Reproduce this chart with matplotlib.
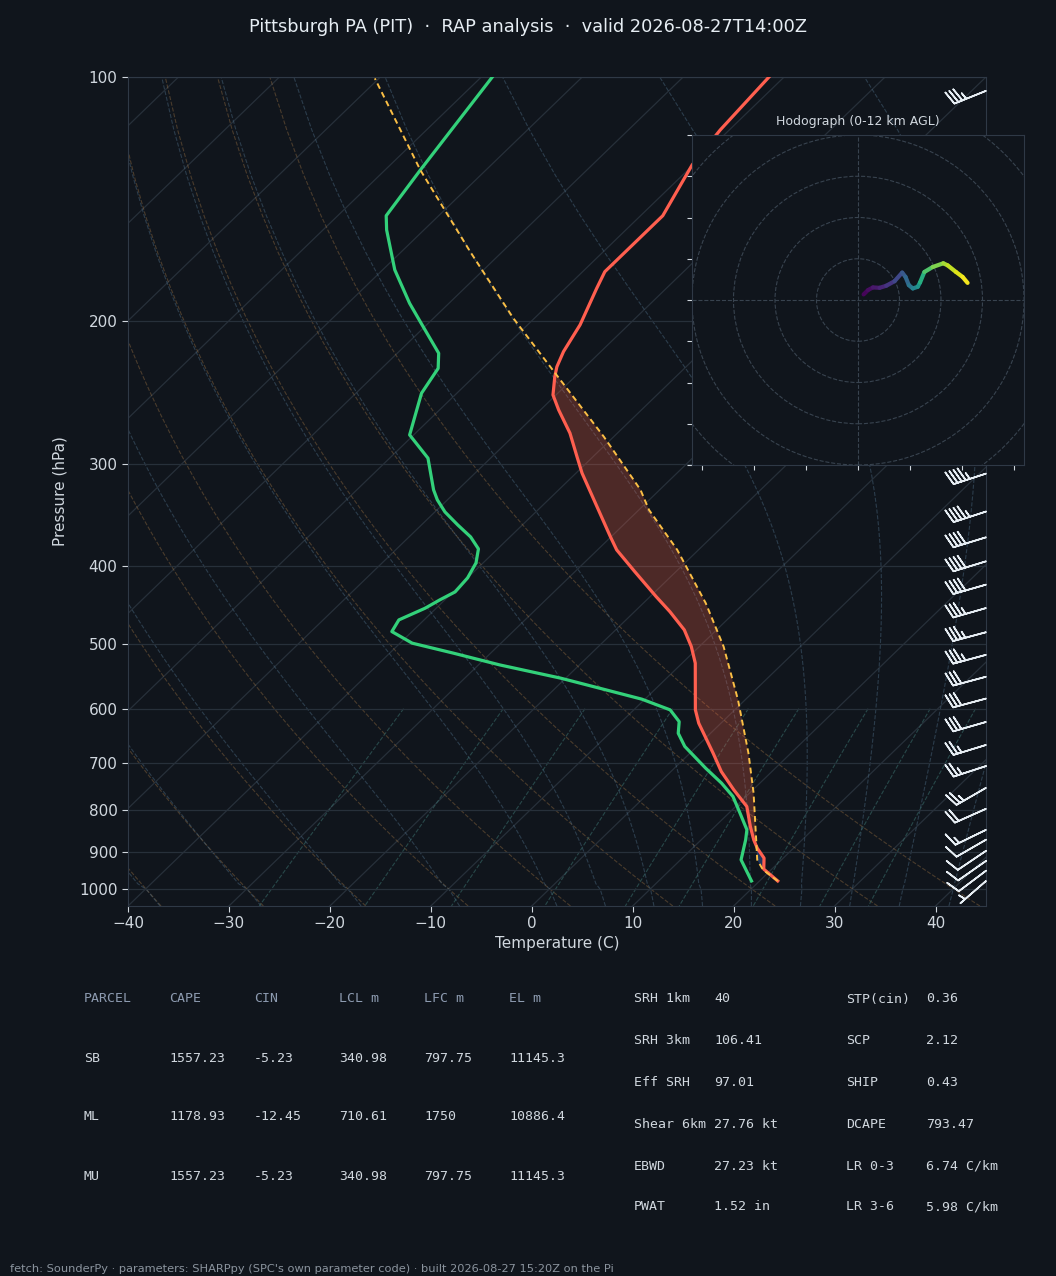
import numpy as np
import matplotlib
matplotlib.use("Agg")
import matplotlib.pyplot as plt
from matplotlib.collections import LineCollection
from matplotlib.patches import Circle
from matplotlib import transforms
from matplotlib.ticker import ScalarFormatter, NullLocator

# ---- sounding ----
p_temp = np.array([978, 945.7, 916.6, 891.0, 870.2, 838.0, 791.8, 755.2, 717.2, 680.7,
                   625.2, 602.0, 527.3, 503.0, 479.8, 455.6, 436.6, 406.6, 382.4, 368.2,
                   307.6, 293.5, 274.6, 257.1, 246.4, 233.9, 227.5, 217.9, 202.0, 182.1,
                   173.7, 153.6, 148.2, 128.3, 116.2, 100.0])
t_temp = np.array([21.8, 19.2, 18.1, 16.4, 15.2, 13.5, 11.1, 8.1, 5.0, 2.3,
                   -2.2, -3.9, -8.7, -10.8, -13.2, -16.5, -19.4, -24.1, -28.1, -30.1,
                   -39.4, -41.6, -44.7, -48.2, -50.3, -52.0, -52.8, -53.7, -54.8, -56.9,
                   -57.8, -57.8, -57.8, -60.1, -60.9, -61.5])

p_dew = np.array([978, 921.1, 870.2, 845.9, 806.7, 769.6, 741.0, 710.3, 667.8, 643.3,
                  622.4, 602.0, 584.0, 568.8, 550.2, 529.9, 512.5, 498.2, 482.1, 466.4,
                  451.2, 440.7, 430.8, 414.0, 396.8, 381.3, 368.6, 356.3, 343.4, 331.8,
                  322.5, 294.8, 276.0, 245.2, 228.5, 218.9, 201.1, 190.0, 172.8, 154.3,
                  148.2, 130.2, 100.1])
t_dew = np.array([19.2, 16.0, 14.4, 13.5, 11.1, 8.7, 6.2, 3.1, -1.2, -3.2,
                  -4.3, -6.4, -10.3, -14.8, -20.5, -27.9, -33.7, -38.8, -42.0, -42.5,
                  -41.1, -40.5, -39.8, -40.0, -40.7, -41.9, -43.9, -46.4, -49.0, -51.0,
                  -52.4, -56.2, -60.4, -63.5, -64.4, -65.9, -70.7, -73.9, -78.8, -83.7,
                  -85.2, -86.5, -88.9])

p_parcel = np.array([978, 947.6, 921.1, 878.4, 762.3, 680.7, 585.2, 503.0, 444.9, 382.4,
                     341.4, 322.5, 277.3, 231.7, 198.2, 164.1, 130.2, 100.4])
t_parcel = np.array([21.8, 19.2, 17.6, 15.8, 10.4, 5.8, -0.7, -7.6, -13.8, -22.1,
                     -29.0, -31.9, -41.0, -52.3, -62.1, -73.2, -86.5, -100.4])

# wind barbs (hPa, kt, deg from)
p_barb = np.array([104, 140, 175, 215, 260, 308, 343, 369, 395, 422, 451, 483, 515,
                   548, 583, 623, 665, 706, 751, 797, 846, 870, 898, 924, 950, 978])
spd_barb = np.array([35, 50, 50, 50, 48, 45, 45, 40, 40, 40, 35, 35, 35,
                     30, 30, 30, 25, 25, 25, 20, 15, 10, 10, 10, 10, 5])
dir_barb = np.array([248, 255, 258, 258, 255, 252, 252, 253, 253, 254, 254, 255, 255,
                     255, 255, 254, 253, 252, 240, 246, 244, 240, 236, 235, 233, 229])

# hodograph (kt) and height (km AGL)
hodo_u = [2.7, 4.8, 7.2, 10.4, 13.6, 17.6, 21.3, 22.9, 24.5, 26.4, 28.8, 29.9, 32.0,
          36.0, 41.1, 43.2, 47.2, 50.4, 52.8]
hodo_v = [2.7, 4.8, 6.1, 5.9, 6.9, 9.1, 13.3, 11.2, 7.2, 5.6, 6.4, 8.5, 13.6,
          16.0, 17.8, 16.8, 13.6, 11.2, 8.3]
hodo_z = [0, 0.3, 0.6, 1.0, 1.5, 2.2, 3.0, 3.6, 4.3, 5.0, 5.8, 6.8, 8.2,
          9.2, 10.2, 10.6, 11.2, 11.6, 12.0]

parcel_cols = ["PARCEL", "CAPE", "CIN", "LCL m", "LFC m", "EL m"]
parcel_rows = [["SB", "1557.23", "-5.23", "340.98", "797.75", "11145.3"],
               ["ML", "1178.93", "-12.45", "710.61", "1750", "10886.4"],
               ["MU", "1557.23", "-5.23", "340.98", "797.75", "11145.3"]]
params_a = [("SRH 1km", "40"), ("SRH 3km", "106.41"), ("Eff SRH", "97.01"),
            ("Shear 6km", "27.76 kt"), ("EBWD", "27.23 kt"), ("PWAT", "1.52 in")]
params_b = [("STP(cin)", "0.36"), ("SCP", "2.12"), ("SHIP", "0.43"),
            ("DCAPE", "793.47"), ("LR 0-3", "6.74 C/km"), ("LR 3-6", "5.98 C/km")]

TITLE = "Pittsburgh PA (PIT)  \u00b7  RAP analysis  \u00b7  valid 2026-08-27T14:00Z"
FOOTER = ("fetch: SounderPy \u00b7 parameters: SHARPpy (SPC's own parameter code) "
          "\u00b7 built 2026-08-27 15:20Z on the Pi")

# ---- style ----
BG = "#10151c"
TXT = "#d0d7de"
SPINE = "#2f3946"
GRID = "#27303a"
W, H = 1056, 1276

P_BOT, P_TOP = 1050.0, 100.0
T_MIN, T_MAX = -40.0, 45.0
SKEW = T_MAX - T_MIN   # 45 deg skew in axes coords


def sx(t, p):
    frac = np.log(P_BOT / np.asarray(p, float)) / np.log(P_BOT / P_TOP)
    return np.asarray(t, float) + SKEW * frac


def moist_lines(t0c, plev):
    Rd, Cp, Lv, eps = 287.04, 1005.7, 2.501e6, 0.622

    def f(T, p):
        es = 6.112 * np.exp(17.67 * (T - 273.15) / (T - 29.65))
        r = eps * es / (p - es)
        return (Rd * T + Lv * r) / p / (Cp + Lv * Lv * r * eps / (Rd * T * T))

    out = {}
    for target in (plev[plev <= 1000][::-1], plev[plev >= 1000]):
        T = np.asarray(t0c, float) + 273.15
        p = 1000.0
        res = []
        for pn in target:
            n = 6
            h = (pn - p) / n
            for _ in range(n):
                k1 = f(T, p); k2 = f(T + h * k1 / 2, p + h / 2)
                k3 = f(T + h * k2 / 2, p + h / 2); k4 = f(T + h * k3, p + h)
                T = T + h * (k1 + 2 * k2 + 2 * k3 + k4) / 6
                p += h
            res.append(T.copy())
            p = pn
        for pn, tv in zip(target, res):
            out[pn] = tv - 273.15
    ps = np.sort(np.array(list(out.keys())))[::-1]
    return ps, np.array([out[k] for k in ps]).T


plt.rcParams["font.family"] = "DejaVu Sans"
fig = plt.figure(figsize=(W / 100, H / 100), dpi=100, facecolor=BG)
ax = fig.add_axes([128 / W, 1 - 906 / H, 858 / W, 829 / H], facecolor=BG)
ax.set_yscale("log")
ax.set_ylim(P_BOT, P_TOP)
ax.set_xlim(T_MIN, T_MAX)
ax.yaxis.set_major_locator(matplotlib.ticker.FixedLocator(np.arange(100, 1001, 100)))
ax.yaxis.set_major_formatter(ScalarFormatter())
ax.yaxis.set_minor_locator(NullLocator())
ax.set_xticks(np.arange(-40, 41, 10))
for s in ax.spines.values():
    s.set_color(SPINE)
ax.tick_params(colors=TXT, labelsize=11, length=4, color=TXT)
ax.grid(axis="y", color=GRID, lw=0.9)
ax.set_xlabel("Temperature (C)", color=TXT, fontsize=11, labelpad=3)
ax.set_ylabel("Pressure (hPa)", color=TXT, fontsize=11, labelpad=8)

# isotherms
for t in np.arange(-130, 50, 10):
    ax.plot(sx([t, t], [P_BOT, P_TOP]), [P_BOT, P_TOP], color=GRID, lw=0.9, zorder=1)

# dry adiabats
plin = np.linspace(P_BOT, P_TOP, 60)
for t0 in np.arange(-40, 46, 10):
    td = (t0 + 273.15) * (plin / 1000.0) ** 0.2857 - 273.15
    ax.plot(sx(td, plin), plin, color="#b5834a", alpha=0.35, lw=0.8, ls="--", zorder=1)

# moist adiabats
t0m = np.concatenate((np.arange(-40, 0, 10), np.arange(0, 46, 5)))
pm, tm = moist_lines(t0m, plin)
for row in tm:
    ax.plot(sx(row, pm), pm, color="#4d6d86", alpha=0.45, lw=0.8, ls="--", zorder=1)

# mixing ratio lines
pmix = np.linspace(600, P_BOT, 30)
for w in [0.0004, 0.001, 0.002, 0.004, 0.007, 0.01, 0.016, 0.024, 0.032]:
    e = pmix * w / (0.622 + w)
    le = np.log(e / 6.112)
    tdw = 243.5 * le / (17.67 - le)
    ax.plot(sx(tdw, pmix), pmix, color="#3f7a76", alpha=0.5, lw=0.8, ls="--", zorder=1)

# CAPE / CIN shading
pg = np.unique(np.concatenate([p_temp, p_parcel]))
pg = pg[(pg >= p_parcel.min()) & (pg <= p_parcel.max())]
te = np.interp(np.log(pg), np.log(p_temp[::-1]), t_temp[::-1])
tp = np.interp(np.log(pg), np.log(p_parcel[::-1]), t_parcel[::-1])
ax.fill_betweenx(pg, sx(te, pg), sx(tp, pg), where=tp >= te, interpolate=True,
                 facecolor="#ff6347", alpha=0.26, lw=0, zorder=2)
ax.fill_betweenx(pg, sx(te, pg), sx(tp, pg), where=(tp < te) & (pg > 860), interpolate=True,
                 facecolor="#3a6fd8", alpha=0.35, lw=0, zorder=2)

ax.plot(sx(t_temp, p_temp), p_temp, color="#ff5f4f", lw=2.3, zorder=4)
ax.plot(sx(t_dew, p_dew), p_dew, color="#33d17a", lw=2.3, zorder=4)
ax.plot(sx(t_parcel, p_parcel), p_parcel, color="#fbbf45", lw=1.4, ls=(0, (3, 2)), zorder=5)

# barbs at right edge
rad = np.deg2rad(dir_barb)
ub = -spd_barb * np.sin(rad)
vb = -spd_barb * np.cos(rad)
btr = transforms.blended_transform_factory(ax.transAxes, ax.transData)
ax.barbs(np.ones_like(p_barb, float), p_barb, ub, vb, transform=btr, clip_on=False,
         color="#e6edf3", lw=1.2, length=7, zorder=6)

# hodograph inset
hax = fig.add_axes([692 / W, 1 - 465 / H, 332 / W, 330 / H], facecolor=BG)
hax.set_xlim(-80, 80)
hax.set_ylim(-80, 80)
hax.set_xticks(np.arange(-75, 76, 25))
hax.set_yticks(np.arange(-80, 81, 20))
hax.tick_params(labelbottom=False, labelleft=False, colors=TXT, length=3.5, color=TXT)
for s in hax.spines.values():
    s.set_color(SPINE)
for r in np.arange(20, 112, 20):
    hax.add_patch(Circle((0, 0), r, fill=False, color="#38434f", ls="--", lw=0.8))
hax.axhline(0, color="#38434f", ls="--", lw=0.8)
hax.axvline(0, color="#38434f", ls="--", lw=0.8)
pts = np.column_stack([hodo_u, hodo_v])
segs = np.stack([pts[:-1], pts[1:]], axis=1)
zmid = (np.array(hodo_z[:-1]) + np.array(hodo_z[1:])) / 2
lc = LineCollection(segs, cmap="viridis", norm=plt.Normalize(0, 12), lw=3.0, capstyle="round")
lc.set_array(zmid)
hax.add_collection(lc)
hax.set_title("Hodograph (0-12 km AGL)", color=TXT, fontsize=9, pad=7)

# title
fig.text(0.5, 1 - 27 / H, TITLE, ha="center", va="center", color="#e6edf3", fontsize=12.8)

# parameter tables
MONO = "DejaVu Sans Mono"
col_x = [84, 169, 254, 339, 424, 509]
row_y = [999, 1058, 1117, 1176]
for cx, lab in zip(col_x, parcel_cols):
    fig.text(cx / W, 1 - row_y[0] / H, lab, family=MONO, fontsize=9.5, color="#8d9bb0", va="center")
for ry, row in zip(row_y[1:], parcel_rows):
    for cx, val in zip(col_x, row):
        fig.text(cx / W, 1 - ry / H, val, family=MONO, fontsize=9.5, color=TXT, va="center")

prow_y = [999, 1041, 1083, 1124, 1166, 1207]
for ry, (a, b), (c, d) in zip(prow_y, params_a, params_b):
    fig.text(634 / W, 1 - ry / H, a, family=MONO, fontsize=9.5, color=TXT, va="center")
    fig.text(714 / W, 1 - ry / H, b, family=MONO, fontsize=9.5, color=TXT, va="center")
    fig.text(846 / W, 1 - ry / H, c, family=MONO, fontsize=9.5, color=TXT, va="center")
    fig.text(926 / W, 1 - ry / H, d, family=MONO, fontsize=9.5, color=TXT, va="center")

fig.text(10 / W, 1 - 1269 / H, FOOTER, fontsize=8.2, color="#8b949e", va="center")

fig.savefig("out.png", dpi=100, facecolor=BG)
